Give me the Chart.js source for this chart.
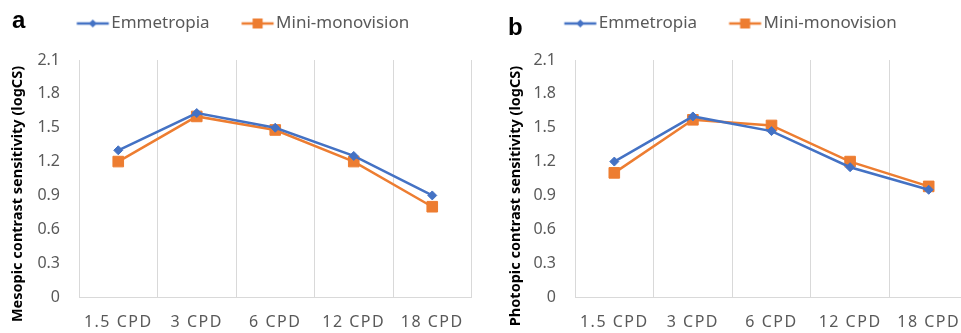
<!DOCTYPE html>
<html>
<head>
<meta charset="utf-8">
<script src="https://cdn.jsdelivr.net/npm/chart.js@4.4.0/dist/chart.umd.min.js"></script>
<style>
html, body { margin: 0; padding: 0; background: #fff; overflow: hidden; }
#wrap { position: relative; width: 961px; height: 333px; overflow: hidden; }
.box { position: absolute; top: 0; height: 333px; }
</style>
</head>
<body>
<div id="wrap">
    <div class="box" style="left:0;width:480px"><canvas id="chart-a" width="480" height="333"></canvas></div>
    <div class="box" style="left:480px;width:510px"><canvas id="chart-b" width="510" height="333"></canvas></div>
</div>
<script>
// categories
const labels = ['1.5 CPD', '3 CPD', '6 CPD', '12 CPD', '18 CPD'];
const seriesNames = ['Emmetropia', 'Mini-monovision'];

// a - mesopic
const mesopicEmmetropia = [1.30, 1.63, 1.50, 1.25, 0.90];
const mesopicMonovision = [1.20, 1.60, 1.48, 1.20, 0.80];

// b - photopic
const photopicEmmetropia = [1.20, 1.60, 1.47, 1.15, 0.95];
const photopicMonovision = [1.10, 1.57, 1.52, 1.20, 0.98];

// y axis
const yMin = 0, yMax = 2.1, yStep = 0.3;

const blue = '#4472C4';
const orange = '#ED7D31';
const grey = '#595959';
const gridColor = '#D9D9D9';


// legend icon: line with marker (excel style)
function legendIcon(color, style) {
    const c = document.createElement('canvas');
    c.width = 54; c.height = 14;
    const g = c.getContext('2d');
    g.strokeStyle = color;
    g.fillStyle = color;
    g.lineWidth = 2.5;
    g.beginPath(); g.moveTo(20.5, 7); g.lineTo(52.5, 7); g.stroke();
    if (style === 'rect') {
        g.fillRect(31.5, 2, 10, 10);
    } else {
        g.beginPath();
        g.moveTo(36.5, 3); g.lineTo(40.5, 7); g.lineTo(36.5, 11); g.lineTo(32.5, 7);
        g.closePath(); g.fill();
    }
    return c;
}
const icons = [legendIcon(blue, 'rectRot'), legendIcon(orange, 'rect')];


// panel letter + y title, extra gap under the legend
const panelText = {
    id: 'panelText',
    beforeLayout(chart, args, opts) {
        const lg = chart.legend;
        if (lg && !lg._gap) {
            const fit = lg.fit;
            lg.fit = function () { fit.call(this); this.height += opts.legendGap; };
            lg._gap = true;
        }
    },
    afterDraw(chart, args, opts) {
        const ctx = chart.ctx;
        ctx.save();
        ctx.fillStyle = '#000';
        ctx.font = 'bold 24px "Liberation Sans", Arial, sans-serif';
        ctx.textBaseline = 'alphabetic';
        ctx.textAlign = 'left';
        ctx.fillText(opts.letter, opts.letterX, opts.letterY);

        ctx.translate(opts.titleX, opts.titleY);
        ctx.rotate(-Math.PI / 2);
        ctx.font = 'bold 14.5px "Noto Sans", sans-serif';
        ctx.textAlign = 'center';
        ctx.textBaseline = 'middle';
        ctx.fillText(opts.title, 0, 0);
        ctx.restore();
    }
};


function makeChart(id, emm, mono, p) {
    return new Chart(document.getElementById(id), {
        type: 'line',
        data: {
            labels: labels,
            datasets: [{
                label: seriesNames[0],
                data: emm,
                borderColor: blue,
                backgroundColor: blue,
                borderWidth: 2.5,
                pointStyle: 'rectRot',
                pointRadius: 4.5,
                pointBorderWidth: 1,
                tension: 0
            }, {
                label: seriesNames[1],
                data: mono,
                borderColor: orange,
                backgroundColor: orange,
                borderWidth: 2.5,
                pointStyle: 'rect',
                pointRadius: 7.5,
                pointBorderWidth: 1,
                tension: 0
            }]
        },
        options: {
            responsive: false,
            animation: false,
            layout: {
                padding: { top: -4, left: 0, right: p.padRight, bottom: 0 }
            },
            scales: {
                x: {
                    offset: true,
                    grid: { color: gridColor, offset: true, drawTicks: false },
                    border: { color: gridColor },
                    ticks: {
                        color: grey,
                        padding: 16,
                        maxRotation: 0,
                        autoSkip: false,
                        font: { family: '"Noto Sans", sans-serif', size: 16 }
                    },
                    afterFit: scale => {
                        scale.height = 36;
                        // excel draws these labels letter-spaced
                        if (!scale._spaced) {
                            const draw = scale.drawLabels;
                            scale.drawLabels = function (area) {
                                this.ctx.save();
                                this.ctx.letterSpacing = '1.5px';
                                draw.call(this, area);
                                this.ctx.restore();
                            };
                            scale._spaced = true;
                        }
                    }
                },
                y: {
                    min: yMin,
                    max: yMax,
                    grid: { display: false, drawTicks: false },
                    border: { color: gridColor },
                    ticks: {
                        stepSize: yStep,
                        color: grey,
                        padding: 19,
                        font: { family: '"Noto Sans", sans-serif', size: 16 },
                        callback: v => v === 0 ? '0' : v.toFixed(1)
                    },
                    afterFit: scale => { scale.width = p.yWidth; }
                }
            },
            plugins: {
                legend: {
                    position: 'top',
                    labels: {
                        usePointStyle: true,
                        pointStyleWidth: 39,
                        padding: 19,
                        color: grey,
                        font: { family: '"Noto Sans", sans-serif', size: 17 },
                        generateLabels: chart => chart.data.datasets.map((d, i) => ({
                            text: d.label,
                            pointStyle: icons[i],
                            fontColor: grey,
                            datasetIndex: i,
                            hidden: false,
                            lineWidth: 0
                        }))
                    }
                },
                tooltip: { enabled: false },
                panelText: p.text
            }
        },
        plugins: [panelText]
    });
}


//////////////////////////////////////////////// Chart-a
makeChart('chart-a', mesopicEmmetropia, mesopicMonovision, {
    padRight: 7,
    yWidth: 79,
    text: { legendGap: 18, letter: 'a', letterX: 12, letterY: 28, title: 'Mesopic contrast sensitivity (logCS)', titleX: 18, titleY: 194 }
});

//////////////////////////////////////////////// Chart-b
makeChart('chart-b', photopicEmmetropia, photopicMonovision, {
    padRight: 22,
    yWidth: 95,
    text: { legendGap: 18, letter: 'b', letterX: 28, letterY: 35, title: 'Photopic contrast sensitivity (logCS)', titleX: 36, titleY: 196 }
});
</script>
</body>
</html>
